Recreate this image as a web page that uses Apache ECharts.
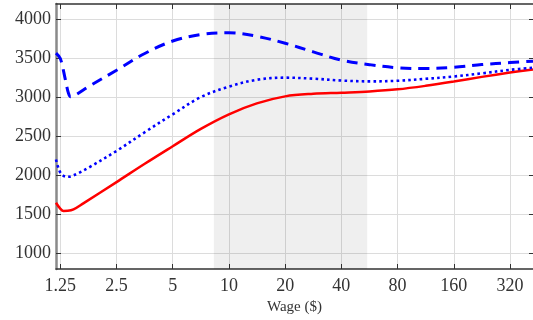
<!DOCTYPE html>
<html>
<head>
<meta charset="utf-8">
<script src="https://cdn.jsdelivr.net/npm/echarts@6/dist/echarts.min.js"></script>
<style>
  html, body { margin: 0; padding: 0; background: #fff; }
  #chart { width: 533px; height: 320px; }
</style>
</head>
<body>
<div id="chart"></div>
<script>
// Wage ticks on a base-2 log axis
const wageTicks = [1.25, 2.5, 5, 10, 20, 40, 80, 160, 320];
const valueTicks = [1000, 1500, 2000, 2500, 3000, 3500, 4000];
const shadedBand = [8.3, 55];
const yRange = [800, 4200];

// Solid red curve: [wage, value]
const solidWage = [1.185, 1.246, 1.3, 1.37, 1.47, 1.66, 2.5, 3.54, 5, 7.07, 10, 14.1, 20, 28.3, 40, 56.6, 80, 113, 160, 226, 320, 425];
const solidValue = [1650, 1577, 1544, 1546, 1564, 1642, 1915, 2150, 2375, 2598, 2785, 2925, 3015, 3048, 3062, 3078, 3105, 3150, 3205, 3265, 3320, 3360];

// Dotted blue curve
const dottedWage = [1.185, 1.215, 1.26, 1.35, 1.43, 1.55, 1.77, 2.5, 3.54, 5, 7.07, 10, 14.1, 20, 28.3, 40, 56.6, 80, 113, 160, 226, 320, 425];
const dottedValue = [2205, 2110, 2026, 1982, 1990, 2026, 2100, 2315, 2555, 2785, 3005, 3140, 3228, 3255, 3242, 3218, 3207, 3215, 3240, 3270, 3310, 3355, 3382];

// Dashed blue curve
const dashedWage = [1.185, 1.25, 1.33, 1.38, 1.42, 1.5, 1.77, 2.5, 3.54, 5, 7.07, 10, 14.1, 20, 28.3, 40, 56.6, 80, 113, 160, 226, 320, 425];
const dashedValue = [3570, 3500, 3230, 3060, 3010, 3030, 3140, 3350, 3565, 3725, 3808, 3830, 3786, 3696, 3586, 3480, 3422, 3382, 3372, 3387, 3423, 3448, 3466];

const pairs = (xs, ys) => xs.map((x, i) => [x, ys[i]]);

const serif = 'Liberation Serif';
const textColor = '#333';
const axisDark = '#333';
const gridColor = '#dcdcdc';

const chart = echarts.init(document.getElementById('chart'));

const xBase = {
  type: 'log',
  logBase: 2,
  min: 1.185,
  max: 425
};

chart.setOption({
  animation: false,
  grid: { left: 56, right: 0, top: 4, bottom: 51, containLabel: false },
  xAxis: [
    Object.assign({}, xBase, {
      position: 'bottom',
      name: 'Wage ($)',
      nameLocation: 'middle',
      nameGap: 27,
      nameTextStyle: { fontFamily: serif, fontSize: 15, color: textColor },
      axisLine: { show: true, lineStyle: { color: axisDark, width: 1.5 } },
      axisTick: { show: true, inside: true, length: 5, customValues: wageTicks, lineStyle: { color: axisDark, width: 1 } },
      axisLabel: {
        customValues: wageTicks,
        fontFamily: serif, fontSize: 18, color: textColor, margin: 8,
        formatter: v => String(v)
      },
      splitLine: { show: true, lineStyle: { color: gridColor, width: 1 } },
      minorTick: { show: false }
    }),
    Object.assign({}, xBase, {
      position: 'top',
      axisLine: { show: true, lineStyle: { color: axisDark, width: 1.5 } },
      axisTick: { show: true, inside: true, length: 5, customValues: wageTicks, lineStyle: { color: axisDark, width: 1 } },
      axisLabel: { show: false },
      splitLine: { show: false }
    })
  ],
  yAxis: [
    {
      type: 'value',
      position: 'left',
      min: yRange[0],
      max: yRange[1],
      axisLine: { show: true, lineStyle: { color: '#8a8a8a', width: 2.5 } },
      axisTick: { show: true, inside: true, length: 5, customValues: valueTicks, lineStyle: { color: axisDark, width: 1 } },
      axisLabel: {
        customValues: valueTicks,
        fontFamily: serif, fontSize: 18, color: textColor, margin: 5,
        formatter: v => String(v)
      },
      splitLine: { show: true, lineStyle: { color: gridColor, width: 1 } }
    },
    {
      type: 'value',
      position: 'right',
      min: yRange[0],
      max: yRange[1],
      axisLine: { show: false },
      axisTick: { show: true, inside: true, length: 4, customValues: valueTicks, lineStyle: { color: axisDark, width: 1 } },
      axisLabel: { show: false },
      splitLine: { show: false }
    }
  ],
  series: [
    {
      // shaded wage band: a light translucent wash so the grid lines still show through
      type: 'line',
      z: 1,
      silent: true,
      data: [[shadedBand[0], yRange[1]], [shadedBand[1], yRange[1]]],
      showSymbol: false,
      lineStyle: { width: 0 },
      areaStyle: { color: 'rgba(0,0,0,0.062)', opacity: 1, origin: 'start' }
    },
    {
      type: 'line',
      data: pairs(solidWage, solidValue),
      showSymbol: false,
      smooth: 0.35,
      lineStyle: { color: '#ff0000', width: 2.5, type: 'solid' }
    },
    {
      type: 'line',
      data: pairs(dottedWage, dottedValue),
      showSymbol: false,
      smooth: 0.35,
      lineStyle: { color: '#0000ff', width: 2.6, type: [2.6, 3.2], cap: 'butt' }
    },
    {
      type: 'line',
      data: pairs(dashedWage, dashedValue),
      showSymbol: false,
      smooth: 0.35,
      lineStyle: { color: '#0000ff', width: 3, type: [11, 7], cap: 'butt' }
    }
  ]
});
</script>
</body>
</html>
